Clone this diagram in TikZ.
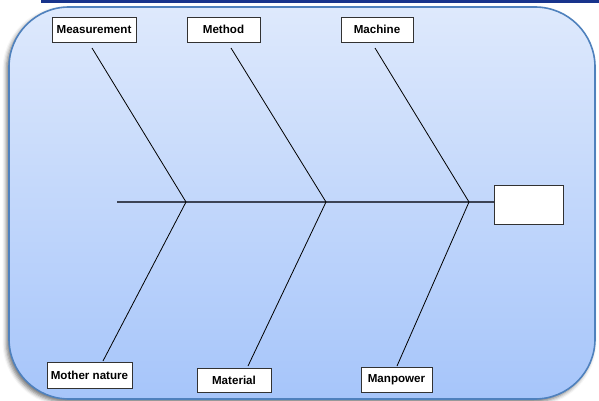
\documentclass[tikz,border=0pt]{standalone}
\usepackage{fontspec}
\setmainfont{Liberation Sans}
\usetikzlibrary{shadows,shadows.blur}
\definecolor{topbar}{RGB}{24,52,140}
\definecolor{bgtop}{RGB}{222,233,252}
\definecolor{bgbot}{RGB}{166,197,250}
\definecolor{bordblue}{RGB}{79,129,189}
\definecolor{spinec}{RGB}{60,68,85}
\tikzset{
  causebox/.style={draw={rgb,255:red,50;green,50;blue,50}, line width=0.8pt, fill=white,
    inner sep=0pt, minimum height=25pt, font=\fontsize{11.6}{13}\selectfont\bfseries,
    drop shadow={shadow xshift=1.3pt, shadow yshift=-1.3pt, fill=black!55, opacity=0.6}},
  headbox/.style={draw={rgb,255:red,50;green,50;blue,50}, line width=0.8pt, fill=white,
    inner sep=0pt, minimum width=69pt, minimum height=39pt},
  bone/.style={draw=black, line width=0.8pt},
  spine/.style={draw=spinec, line width=1.6pt}
}
\begin{document}
\begin{tikzpicture}[x=1pt,y=-1pt]
\useasboundingbox (0,0) rectangle (599,401);
% top bar
\fill[topbar] (41,0) rectangle (599,3.5);
% background panel
\path[blur shadow={shadow xshift=-2.5pt, shadow yshift=-3pt, shadow blur radius=4pt, shadow opacity=55}]
  [rounded corners=60pt] (9,7) rectangle (595,399);
\shade[top color=bgtop, bottom color=bgbot, rounded corners=60pt] (9,7) rectangle (595,399);
\draw[bordblue, line width=1.6pt, rounded corners=60pt] (9,7) rectangle (595,399);
% boxes
\node[causebox, minimum width=84pt] (meas) at (94,29.5) {Measurement};
\node[causebox, minimum width=73pt] (meth) at (223.5,29.5) {Method};
\node[causebox, minimum width=72pt] (mach) at (377,29.5) {Machine};
\node[causebox, minimum width=85pt, minimum height=26pt] (moth) at (89.5,375) {Mother nature};
\node[causebox, minimum width=74pt, minimum height=24pt] (matl) at (234,380) {Material};
\node[causebox, minimum width=71pt] (manp) at (396.5,379.5) {Manpower};
\node[headbox] (head) at (528.5,204.5) {};
% spine
\coordinate (s0) at (117,202);
\coordinate (j1) at (186,202);
\coordinate (j2) at (326,202);
\coordinate (j3) at (469,202);
\draw[spine] (s0) -- (s0 -| head.west);
% bone ends
\coordinate (t1) at (92,48);
\coordinate (t2) at (231,48);
\coordinate (t3) at (375,48);
\coordinate (b1) at (103,361);
\coordinate (b2) at (248,366);
\coordinate (b3) at (397,366);
\draw[bone] (t1) -- (j1) -- (b1);
\draw[bone] (t2) -- (j2) -- (b2);
\draw[bone] (t3) -- (j3) -- (b3);
\end{tikzpicture}
\end{document}
